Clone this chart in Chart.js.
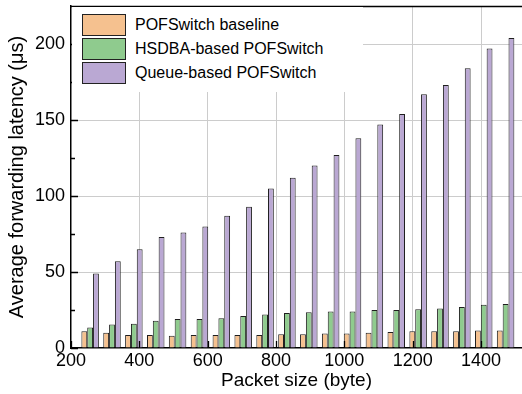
<!DOCTYPE html>
<html lang="en">

<head>
   <meta charset="UTF-8">
   <title>Average forwarding latency vs packet size</title>
   <script src="https://cdn.jsdelivr.net/npm/chart.js@4.4.1/dist/chart.umd.min.js"></script>
   <style>
      body { margin: 0; background: #fff; }
      .chart-container { position: relative; width: 522px; height: 394px; }
      .legend {
         position: absolute; left: 72px; top: 7px; width: 291px; height: 85px;
         background: #fff; font-family: "Liberation Sans", Arial, sans-serif; font-size: 16px; color: #000;
      }
      .legend-item { position: absolute; left: 10px; height: 22px; display: flex; align-items: center; }
      .legend-item span.box { width: 42px; height: 20px; border: 1px solid #222; box-sizing: content-box; margin-right: 9px; }
   </style>
</head>

<body>
   <div class="chart-container">
      <canvas id="myChart"></canvas>
      <div class="legend" id="legend"></div>
   </div>
   <script>
      const packetSizes = [256, 320, 384, 448, 512, 576, 640, 704, 768, 832,
         896, 960, 1024, 1088, 1152, 1216, 1280, 1344, 1408, 1472];
      const baseline = [11, 10, 8.5, 8.5, 8, 8.5, 8.5, 8.5, 8.5, 9,
         9, 9.5, 9.5, 10, 10.5, 11, 11, 11, 11.5, 11.5];
      const hsdba = [13.5, 15.5, 16, 18, 19, 19, 19.5, 21, 22, 23,
         23.5, 24, 24, 25, 25, 25.5, 26, 27, 28.5, 29];
      const queueBased = [49, 57, 65, 73, 76, 80, 87, 93, 105, 112,
         120, 127, 138, 147, 154, 167, 173, 184, 197, 204];
      const seriesNames = ['POFSwitch baseline', 'HSDBA-based POFSwitch', 'Queue-based POFSwitch'];
      const seriesColors = ['#f5c18f', '#8fcb8e', '#baa8d3'];

      const font = '"Liberation Sans", Arial, sans-serif';

      function points(values) {
         return packetSizes.map((x, i) => ({ x: x, y: values[i] }));
      }

      // inward ticks + top frame line, like the original plot
      const frameTicks = {
         id: 'frameTicks',
         afterDatasetsDraw(chart) {
            const ctx = chart.ctx;
            const a = chart.chartArea;
            const xs = chart.scales.x;
            const ys = chart.scales.y;
            ctx.save();
            ctx.strokeStyle = '#000';
            ctx.lineWidth = 1.3;
            ctx.beginPath();
            xs.ticks.forEach(t => {
               const px = Math.round(xs.getPixelForValue(t.value)) + 0.5;
               ctx.moveTo(px, a.bottom);
               ctx.lineTo(px, a.bottom - 7);
            });
            const vals = ys.ticks.map(t => t.value);
            vals.forEach(v => {
               const py = Math.round(ys.getPixelForValue(v)) + 0.5;
               ctx.moveTo(a.left, py);
               ctx.lineTo(a.left + 7, py);
               if (v + 25 < ys.max) {
                  const my = Math.round(ys.getPixelForValue(v + 25)) + 0.5;
                  ctx.moveTo(a.left, my);
                  ctx.lineTo(a.left + 4, my);
               }
            });
            ctx.moveTo(a.left, a.top + 0.5);
            ctx.lineTo(a.right, a.top + 0.5);
            ctx.stroke();
            ctx.restore();
         }
      };

      const config = {
         type: 'bar',
         data: {
            datasets: [baseline, hsdba, queueBased].map((vals, i) => ({
               label: seriesNames[i],
               data: points(vals),
               backgroundColor: seriesColors[i],
               borderColor: '#1f1f1f',
               borderWidth: 1,
               categoryPercentage: 0.8,
               barPercentage: 1
            }))
         },
         options: {
            responsive: true,
            maintainAspectRatio: false,
            animation: false,
            layout: { padding: { top: 6, right: 0, bottom: 0, left: 0 } },
            plugins: { legend: { display: false }, tooltip: { enabled: false } },
            scales: {
               x: {
                  type: 'linear',
                  offset: false,
                  min: 200,
                  max: 1520,
                  afterFit(s) { s.height = 46; s.paddingLeft = 0; s.paddingRight = 0; },
                  grid: {
                     offset: false,
                     drawTicks: false,
                     color: c => c.tick && c.tick.value === 200 ? 'rgba(0,0,0,0)' : '#cccccc'
                  },
                  border: { color: '#000', width: 1.5 },
                  ticks: {
                     stepSize: 200,
                     includeBounds: false,
                     padding: 2,
                     color: '#000',
                     font: { family: font, size: 18 },
                     callback: v => String(v)
                  },
                  title: {
                     display: true,
                     text: 'Packet size (byte)',
                     color: '#000',
                     font: { family: font, size: 19 },
                     padding: { top: 0, bottom: 2 }
                  }
               },
               y: {
                  min: 0,
                  max: 225,
                  afterFit(s) { s.width = 71; s.paddingTop = 0; s.paddingBottom = 0; },
                  grid: {
                     drawTicks: false,
                     color: c => c.tick && c.tick.value === 0 ? 'rgba(0,0,0,0)' : '#cccccc'
                  },
                  border: { color: '#000', width: 1.5 },
                  ticks: {
                     stepSize: 50,
                     includeBounds: false,
                     padding: 6,
                     color: '#000',
                     font: { family: font, size: 18 }
                  },
                  title: {
                     display: true,
                     text: 'Average forwarding latency (μs)',
                     color: '#000',
                     font: { family: font, size: 20 },
                     padding: { top: 5, bottom: 0 }
                  }
               }
            }
         },
         plugins: [frameTicks]
      };

      const chart = new Chart(document.getElementById('myChart').getContext('2d'), config);

      const legend = document.getElementById('legend');
      seriesNames.forEach((name, i) => {
         const item = document.createElement('div');
         item.className = 'legend-item';
         item.style.top = (7 + i * 24) + 'px';
         item.innerHTML = '<span class="box" style="background:' + seriesColors[i] + '"></span>' + name;
         legend.appendChild(item);
      });
   </script>
</body>

</html>
